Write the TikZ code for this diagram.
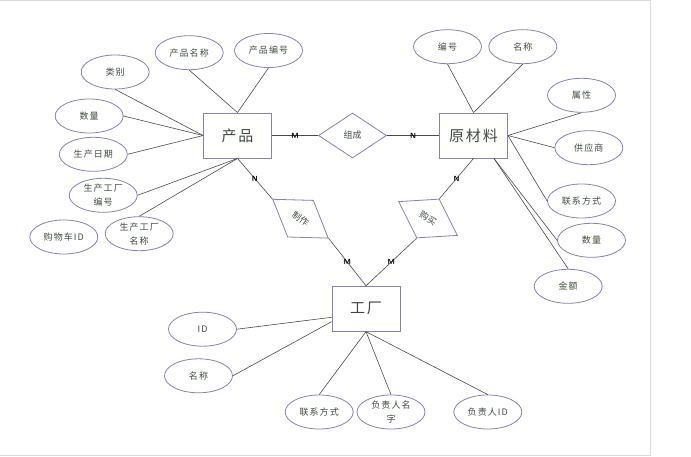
\documentclass[tikz,border=0pt]{standalone}
\usepackage{fontspec}
\newfontfamily\cjk[LetterSpace=12]{Noto Sans CJK SC}
\newfontfamily\cjkrel{Noto Sans CJK SC}
\usetikzlibrary{shapes}
\definecolor{inkgray}{HTML}{3E4A3E}
\definecolor{edgeblue}{HTML}{8482AE}
\definecolor{linegray}{HTML}{4A4A4A}
\definecolor{framegray}{HTML}{DCDCDC}

\begin{document}
\begin{tikzpicture}[x=1pt, y=-1pt,
            entity/.style={rectangle, draw=edgeblue, line width=0.9pt, minimum width=68pt, minimum height=45pt, inner sep=0pt, text=inkgray, font=\cjk\fontsize{15}{18}\selectfont},
            attr/.style={ellipse, draw=edgeblue, line width=0.8pt, minimum width=68pt, minimum height=34pt, inner sep=0pt, align=center, text=inkgray, font=\cjk\fontsize{9}{14}\selectfont},
            rel/.style={diamond, draw=edgeblue, line width=0.8pt, minimum width=68pt, minimum height=45pt, aspect=1.5, inner sep=0pt, text=inkgray, font=\cjkrel\fontsize{9}{11}\selectfont},
            link/.style={draw=linegray, line width=0.6pt},
            card/.style={font=\sffamily\bfseries\fontsize{7.5}{8}\selectfont, inner sep=0pt}
        ]
            \useasboundingbox (0,0) rectangle (691,457);
            \draw[framegray, line width=1pt] (0,0.8) -- (650,0.8) -- (650,455.5) -- (0,455.5);

            % Entities
            \node[entity] (prod) at (237.5,135.5) {产品};
            \node[entity] (mat) at (473.5,135.5) {原材料};
            \node[entity] (fac) at (366,308.7) {工厂};

            % Relations
            \node[rel] (comp) at (352.5,135.5) {组成};
            \node[rel, rotate=-35] (make) at (300.5,218.7) {制作};
            \node[rel, rotate=-30] (buy) at (428,218.5) {购买};

            \draw[link] (prod.east) -- node[card] {M} (comp.west);
            \draw[link] (comp.east) -- node[card] {N} (mat.west);
            \draw[link] (prod.south) -- node[card] {N} (make.west);
            \draw[link] (make.east) -- node[card] {M} (fac.north);
            \draw[link] (mat.south) -- node[card] {N} (buy.north);
            \draw[link] (buy.south) -- node[card] {M} (fac.north);

            % Product attributes
            \node[attr] (pname) at (189.2,52.7) {产品名称};
            \node[attr] (pno) at (268.5,50.5) {产品编号};
            \node[attr] (ptype) at (115.2,72) {类别};
            \node[attr] (pqty) at (89.2,116) {数量};
            \node[attr] (pdate) at (93.3,154.3) {生产日期};
            \node[attr] (pfno) at (103.2,195.3) {生产工厂\\编号};
            \node[attr] (pfname) at (139.2,233.7) {生产工厂\\名称};
            \node[attr] (cart) at (63.8,237) {购物车ID};

            \draw[link] (pname.south) -- (prod.north);
            \draw[link] (pno.south) -- (prod.north);
            \draw[link] (ptype.south) -- (prod.west);
            \draw[link] (pqty.east) -- (prod.west);
            \draw[link] (pdate.east) -- (prod.west);
            \draw[link] (pfno.east) -- (prod.south);
            \draw[link] (pfname.north) -- (prod.south);

            % Material attributes
            \node[attr] (mno) at (447.5,46.7) {编号};
            \node[attr] (mname) at (522.8,46.7) {名称};
            \node[attr] (mattr) at (581.5,95.3) {属性};
            \node[attr] (msup) at (588.8,147.7) {供应商};
            \node[attr] (mcontact) at (581.5,201) {联系方式};
            \node[attr] (mqty) at (591.5,240.3) {数量};
            \node[attr] (mamount) at (568.2,286.3) {金额};
            \coordinate (matfoot) at ([xshift=-14pt]mat.south east);

            \draw[link] (mno.south) -- (mat.north);
            \draw[link] (mname.south) -- (mat.north);
            \draw[link] (mattr.south) -- (mat.east);
            \draw[link] (msup.west) -- (mat.east);
            \draw[link] (mcontact.west) -- (mat.east);
            \draw[link] (mqty.west) -- (matfoot);
            \draw[link] (mamount.north) -- (matfoot);

            % Factory attributes
            \node[attr] (fid) at (202.5,329.2) {ID};
            \node[attr] (fname) at (198.5,375.8) {名称};
            \node[attr] (fcontact) at (319.2,412) {联系方式};
            \node[attr] (fmgrname) at (391,412) {负责人名\\字};
            \node[attr] (fmgrid) at (487.8,412) {负责人ID};

            \draw[link] (fid.east) -- ([yshift=-8.6pt]fac.west);
            \draw[link] (fname.east) -- ([yshift=-13pt]fac.west);
            \draw[link] (fcontact.north) -- (fac.south);
            \draw[link] (fmgrname.north) -- (fac.south);
            \draw[link] (fmgrid.north) -- (fac.south);
        \end{tikzpicture}
\end{document}
